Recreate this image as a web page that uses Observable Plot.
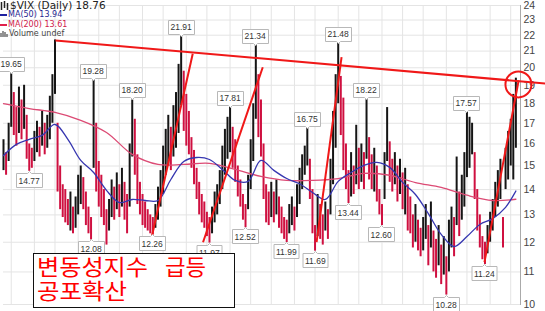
<!DOCTYPE html>
<html><head><meta charset="utf-8">
<script src="https://cdn.jsdelivr.net/npm/d3@7"></script>
<script src="https://cdn.jsdelivr.net/npm/@observablehq/plot@0.6"></script>
<style>
body{margin:0;background:#fff}
#wrap{position:relative;width:545px;height:311px;overflow:hidden;background:#fff}
#legend{position:absolute;left:0;top:0;font-family:"DejaVu Sans",sans-serif;color:#333}
#legend .row{position:absolute;left:0;white-space:pre;font-size:8px;line-height:10px}
#legend .head{font-size:10.5px;line-height:11px;top:0;color:#222}
#legend svg{vertical-align:-1px;margin-right:1px}
#note{position:absolute;left:33px;top:253px;width:202px;height:55px;box-sizing:border-box;border:1.5px solid #111;background:#fff}
</style></head>
<body><div id="wrap"></div>
<script>
// daily VIX bars (high / low)
const hi = [16.2,15.6,17.0,19.65,18.6,17.8,18.9,18.2,19.0,17.4,
16.0,15.8,16.6,17.1,16.8,17.6,17.0,17.4,18.4,19.6,
21.7,17.0,15.0,14.2,14.0,13.6,13.9,13.3,13.7,14.6,
15.0,14.5,13.9,13.3,12.9,19.28,17.0,15.2,14.6,14.0,
13.2,13.6,14.4,14.1,14.7,14.2,14.9,14.3,13.8,16.0,
18.2,17.2,15.5,14.3,13.8,13.5,13.2,13.0,12.9,13.4,
14.1,14.8,15.9,16.7,17.4,16.8,17.9,18.6,20.2,21.91,
19.8,18.5,17.6,16.3,15.7,14.9,14.3,13.8,13.5,13.1,
12.9,13.3,13.9,14.2,14.8,15.9,16.7,17.3,17.81,16.8,
16.2,15.0,14.4,13.8,13.4,14.6,16.2,18.0,21.34,19.6,
18.2,16.0,14.2,13.9,14.3,13.9,14.4,13.7,13.3,12.9,
12.8,13.4,13.7,13.3,14.2,14.9,15.5,15.9,16.75,15.3,
14.0,12.6,13.8,13.4,13.0,13.5,13.2,15.3,17.6,19.6,
21.48,19.5,18.3,16.0,14.8,15.6,15.0,16.9,15.8,16.0,
15.6,18.22,16.3,15.5,15.8,15.0,14.0,13.4,15.6,17.8,
16.1,15.3,15.6,15.0,15.3,14.7,14.9,14.2,13.7,13.0,
13.4,12.8,12.5,12.9,13.4,12.6,13.5,12.4,12.1,12.6,
11.9,12.2,11.5,12.8,13.3,12.9,15.4,13.9,14.6,15.6,
17.57,17.3,17.0,15.6,14.0,13.0,12.2,12.0,12.6,13.1,
13.6,14.3,14.8,15.3,12.9,15.8,16.6,17.2,18.5,19.4];
const lo = [14.8,14.6,15.2,16.8,16.4,15.9,16.5,16.2,16.7,15.3,
14.77,14.9,15.2,15.6,15.4,15.9,15.5,15.8,16.2,17.0,
18.5,13.9,13.2,12.9,12.7,12.6,12.4,12.3,12.5,13.0,
13.4,13.2,12.6,12.3,12.08,14.9,13.9,13.3,12.9,12.6,
11.9,12.4,12.9,12.8,13.2,12.9,13.3,12.8,12.3,13.3,
15.4,14.6,13.4,13.0,12.6,12.5,12.4,12.3,12.26,12.5,
12.8,13.3,13.8,14.6,15.0,14.8,15.4,15.8,16.5,17.9,
16.6,15.9,15.5,14.9,14.2,13.6,13.0,12.7,12.5,12.2,
11.97,12.3,12.7,13.0,13.4,14.0,14.6,15.3,15.6,14.9,
14.3,13.7,13.3,12.8,12.52,13.2,14.0,15.2,17.2,16.3,
15.4,13.6,12.7,12.6,12.9,12.7,13.0,12.5,12.3,12.1,
11.99,12.3,12.6,12.4,12.9,13.4,14.0,14.6,15.0,13.6,
12.3,11.69,12.2,12.1,11.9,12.4,12.1,13.0,14.2,15.8,
18.0,16.4,14.8,14.0,13.44,13.7,13.8,14.2,14.0,14.3,
14.0,15.3,14.4,14.0,13.9,13.5,13.0,12.6,13.6,15.2,
14.3,13.9,14.2,13.5,13.8,13.2,13.0,12.4,12.3,11.8,
12.0,11.7,11.5,11.7,12.1,11.2,11.8,11.0,10.8,11.2,
10.6,10.9,10.28,11.0,11.8,11.5,12.6,12.2,12.8,13.3,
14.5,14.9,15.5,13.6,12.4,11.8,11.4,11.24,11.6,12.0,
12.4,12.9,13.3,13.6,11.8,14.0,14.4,15.0,14.4,15.8];

// moving averages
const ma50Idx = [0,5,10,15,20,25,30,35,40,45,50,55,60,65,70,75,80,85,90,95,100,105,110,115,120,125,130,135,140,145,150,155,160,165,170,175,180,185,190,195,199];
const ma50 = [15.47,15.98,16.22,16.41,16.94,16.22,15.25,14.72,13.97,13.48,13.60,13.56,13.56,14.42,15.20,15.38,15.29,14.85,14.38,14.34,15.25,14.81,14.46,14.24,13.88,13.60,14.34,14.72,15.03,15.16,14.94,14.30,13.80,13.05,12.28,11.85,12.20,12.64,12.86,13.29,13.94];
const ma200Idx = [0,10,20,30,40,50,60,70,80,90,100,110,120,130,140,150,160,170,180,190,199];
const ma200 = [18.01,17.75,17.55,17.15,16.55,15.52,15.07,15.07,15.12,14.85,14.55,14.38,14.38,14.46,14.68,14.60,14.29,14.09,13.77,13.56,13.61];

// labelled highs and lows
const peakIdx = [3,35,50,69,88,98,118,130,141,180];
const peakVal = [19.65,19.28,18.20,21.91,17.81,21.34,16.75,21.48,18.22,17.57];
const lowIdx = [10,34,58,80,94,110,121,134,147,172,187];
const lowVal = [14.77,12.08,12.26,11.97,12.52,11.99,11.69,13.44,12.60,10.28,11.24];

// hand-drawn trend lines (bar index, value)
const trendX1 = [20.2,57.7,77.5,121.6,186.8];
const trendY1 = [21.67,12.24,12.0,12.0,11.32];
const trendX2 = [210.5,73.5,100.7,131.3,200.1];
const trendY2 = [19.1,20.84,20.03,20.63,19.28];
const circleIdx = [200];
const circleVal = [19.05];

const yTicks = [10,11,12,13,14,15,16,17,18,19,20,21,22,23,24];
const monthIdx = [3,12,20,29,37,45,54,62,71,79,88,96,104,113,121,130,138,147,155,163,172,180,189,197];

const bars = hi.map((h, i) => {
  const mid = (h + lo[i]) / 2;
  const prev = i > 0 ? (hi[i-1] + lo[i-1]) / 2 : mid;
  return {i, hi: h, lo: lo[i], up: mid >= prev};
});
const ma50Data = ma50.map((v, k) => ({i: ma50Idx[k], v}));
const ma200Data = ma200.map((v, k) => ({i: ma200Idx[k], v}));
const peaks = peakVal.map((v, k) => ({i: peakIdx[k], v, t: v.toFixed(2)}));
const lows = lowVal.map((v, k) => ({i: lowIdx[k], v, t: v.toFixed(2)}));
const trends = trendX1.map((x1, k) => ({x1, y1: trendY1[k], x2: trendX2[k], y2: trendY2[k]}));
const circ = circleIdx.map((i, k) => ({i, v: circleVal[k]}));

const RED = "#f01818";
const tipOpts = {x: "i", y: "v", title: "t", fontSize: 8.5, textPadding: 2, pointerSize: 4,
  stroke: "#b8b8b8", fill: "white", pathFilter: null, fontFamily: "Liberation Sans"};

const chart = Plot.plot({
  width: 545, height: 311,
  marginLeft: 3, marginRight: 25, marginTop: 5, marginBottom: 7,
  style: {color: "#333", fontFamily: "Liberation Sans", background: "white", overflow: "visible"},
  x: {domain: [0, 200.8], axis: null},
  y: {type: "log", domain: [10, 24], axis: null},
  marks: [
    Plot.ruleX(monthIdx, {stroke: "#e4e4e4"}),
    Plot.ruleY(yTicks, {stroke: "#e4e4e4"}),
    Plot.frame({anchor: "right", stroke: "#aaa"}),
    Plot.axisY(yTicks, {anchor: "right", tickSize: 0, tickPadding: 3, tickFormat: d => String(d), fontSize: 10.5, fill: "#444"}),
    Plot.ruleX(bars.filter(d => !d.up), {x: "i", y1: "lo", y2: "hi", stroke: "#cf1040", strokeWidth: 2}),
    Plot.ruleX(bars.filter(d => d.up), {x: "i", y1: "lo", y2: "hi", stroke: "#151515", strokeWidth: 2}),
    Plot.line(ma200Data, {x: "i", y: "v", curve: "catmull-rom", stroke: "#dc4a74", strokeWidth: 1.3}),
    Plot.line(ma50Data, {x: "i", y: "v", curve: "catmull-rom", stroke: "#3636b0", strokeWidth: 1.3}),
    Plot.link(trends, {x1: "x1", y1: "y1", x2: "x2", y2: "y2", stroke: RED, strokeWidth: 2}),
    Plot.dot(circ, {x: "i", y: "v", r: 13, stroke: RED, strokeWidth: 2}),
    Plot.tip(peaks, {...tipOpts, anchor: "bottom"}),
    Plot.tip(lows, {...tipOpts, anchor: "top"})
  ]
});

const wrap = document.getElementById("wrap");
wrap.appendChild(chart);

const legend = document.createElement("div");
legend.id = "legend";
legend.innerHTML =
 '<div class="row head"><svg width="9" height="9"><path d="M1.5 1V9M4.5 0V7M7.5 2V9" stroke="#222" stroke-width="1.5"/></svg>$VIX (Daily) 18.76</div>' +
 '<div class="row" style="top:10px;color:#1f1f90"><svg width="7" height="8"><path d="M0 5H7" stroke="#2020a0" stroke-width="2"/></svg>MA(50) 13.94</div>' +
 '<div class="row" style="top:20px;color:#d0204a"><svg width="7" height="8"><path d="M0 5H7" stroke="#e0204a" stroke-width="2"/></svg>MA(200) 13.61</div>' +
 '<div class="row" style="top:29px;color:#444"><svg width="8" height="8"><path d="M1 8V4M3 8V2M5 8V3M7 8V5" stroke="#666" stroke-width="1.4"/></svg>Volume undef</div>';
wrap.appendChild(legend);

const note = document.createElement("div");
note.id = "note";
note.innerHTML = '<svg width="200" height="53" style="display:block"><g font-family="Noto Sans CJK KR" font-size="22" fill="#f00">' +
  '<text x="3" y="20.5" textLength="111" lengthAdjust="spacingAndGlyphs">변동성지수</text>' +
  '<text x="131" y="20.5" textLength="41" lengthAdjust="spacingAndGlyphs">급등</text>' +
  '<text x="3" y="44.5" textLength="90" lengthAdjust="spacingAndGlyphs">공포확산</text></g></svg>';
wrap.appendChild(note);
</script>
</body></html>
